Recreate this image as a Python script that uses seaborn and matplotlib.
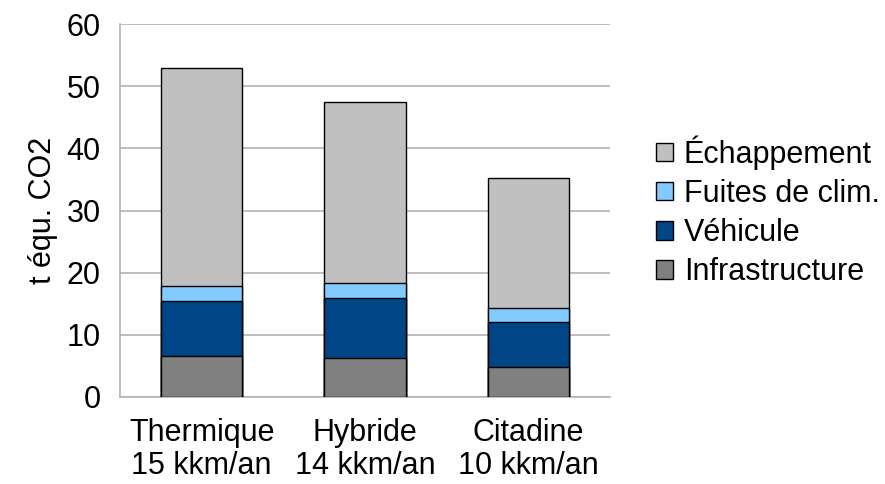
import matplotlib
matplotlib.use("Agg")
import matplotlib.pyplot as plt
from matplotlib.patches import Patch
import numpy as np
import pandas as pd
import seaborn as sns

# donnees (t equ. CO2)
categories = ["Thermique\n15 kkm/an", "Hybride\n14 kkm/an", "Citadine\n10 kkm/an"]
infrastructure = [6.6, 6.25, 4.9]
vehicule = [8.9, 9.75, 7.1]
fuites_clim = [2.35, 2.35, 2.3]
echappement = [35.15, 29.05, 20.9]

series = ["Infrastructure", "Véhicule", "Fuites de clim.", "Échappement"]
colors = ["#808080", "#004586", "#83caff", "#c0c0c0"]

sns.set_style("white")
plt.rcParams["font.family"] = ["Liberation Sans", "DejaVu Sans"]
plt.rcParams["text.color"] = "black"
plt.rcParams["xtick.color"] = "black"
plt.rcParams["ytick.color"] = "black"
plt.rcParams["axes.labelcolor"] = "black"

fig = plt.figure(figsize=(8.85, 4.84), dpi=100)
ax = fig.add_axes([120 / 885, 1 - 397 / 484, 490 / 885, 373 / 484])

# empilement : on dessine les cumuls du plus haut au plus bas
values = np.array([infrastructure, vehicule, fuites_clim, echappement])
cumul = values.cumsum(axis=0)
for i in range(len(series) - 1, -1, -1):
    df = pd.DataFrame({"cat": categories, "val": cumul[i]})
    sns.barplot(data=df, x="cat", y="val", color=colors[i], width=0.5,
                edgecolor="black", linewidth=1.0, saturation=1, ax=ax, zorder=3)

ax.set_xlim(-0.5, 2.5)
ax.set_ylim(0, 60)
ax.set_yticks(range(0, 61, 10))
ax.grid(True, axis="y", color="#b3b3b3", linewidth=1.2, zorder=0)
ax.set_axisbelow(True)

for side in ["top", "right"]:
    ax.spines[side].set_visible(False)
for side in ["left", "bottom"]:
    ax.spines[side].set_color("#b3b3b3")
    ax.spines[side].set_linewidth(1.2)

ax.set_xticks([-0.5, 0.5, 1.5, 2.5], minor=True)
ax.tick_params(axis="x", which="minor", length=10, color="#b3b3b3", width=1.2)
ax.tick_params(axis="x", which="major", length=0, pad=15, labelsize=22)
ax.tick_params(axis="y", length=10, color="#b3b3b3", width=1.2, labelsize=22, pad=4)
for lab in ax.get_xticklabels():
    lab.set_linespacing(1.15)
ax.set_xlabel("")
ax.set_ylabel("t équ. CO2", fontsize=22, labelpad=6)

handles = [Patch(facecolor=colors[i], edgecolor="black", linewidth=1.0, label=series[i])
           for i in range(len(series) - 1, -1, -1)]
fig.legend(handles=handles, loc="upper left", bbox_to_anchor=(641 / 885, 1 - 120 / 484),
           frameon=False, fontsize=22, handlelength=0.55, handleheight=0.55,
           handletextpad=0.35, labelspacing=0.3, borderpad=0)

fig.savefig("out.png", dpi=100)
